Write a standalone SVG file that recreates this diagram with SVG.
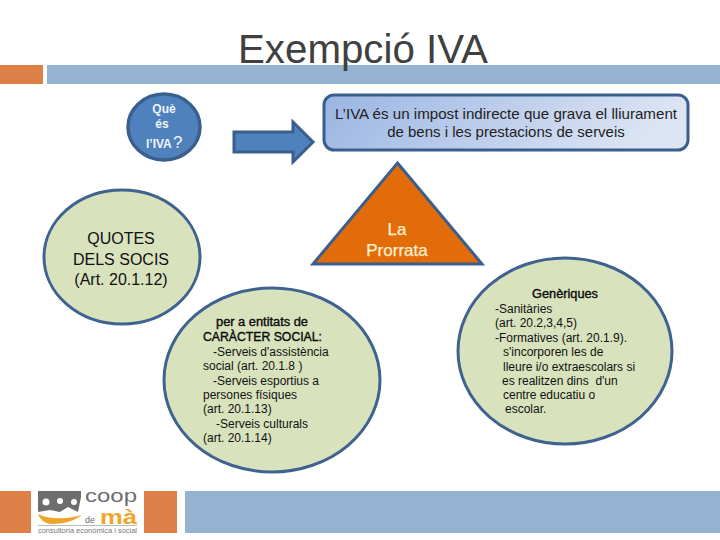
<svg xmlns="http://www.w3.org/2000/svg" width="720" height="540" viewBox="0 0 720 540">
<defs>
<linearGradient id="g" x1="0" y1="0" x2="1" y2="0.15"><stop offset="0" stop-color="#9ab5e2"/><stop offset="1" stop-color="#dde5f4"/></linearGradient>
</defs>
<style>
text{font-family:"Liberation Sans",Arial,sans-serif;fill:#111;white-space:pre}
.s{font-size:12px}
.b{font-size:12px;stroke:#000;stroke-width:.35}
.w{fill:#f2f5fa;font-size:12px;font-weight:bold}
.l{font-size:17px;fill:#fdeecf;stroke:#fdeecf;stroke-width:.25}
.q{font-size:16px}
.d{font-size:15px;fill:#222}
.bub{fill:#d8e2bd;stroke:#3f6390;stroke-width:3}
.lg{fill:#6d6d6d}
.lo{fill:#eda62b}
</style>
<rect width="720" height="540" fill="#fff"/>
<g id="banner"><rect x="0" y="65" width="43" height="19" fill="#dd8047"/><rect x="47" y="65" width="673" height="19" fill="#95b3d0"/></g>
<text x="238" y="63" font-size="40" style="fill:#404040" textLength="250" lengthAdjust="spacingAndGlyphs">Exempció IVA</text>
<g id="footer"><rect x="0" y="491" width="31" height="42" fill="#dd8047"/><rect x="144" y="491" width="33" height="42" fill="#dd8047"/><rect x="185" y="491" width="535" height="42" fill="#95b3d0"/></g>
<g id="logo">
<path d="M38 491H81V497L78 512L68 507L60 512L50 510L38 512Z" class="lg"/>
<circle cx="46" cy="502" r="3.500" fill="#fff"/><circle cx="60" cy="501" r="3" fill="#fff"/><circle cx="74" cy="502" r="3" fill="#fff"/>
<path d="M38 514C50 520 68 519 82 515C74 521 64 524 52 524C46 524 40 520 38 514Z" class="lo"/>
<text x="85" y="502" font-size="19" textLength="52" lengthAdjust="spacingAndGlyphs" style="fill:#6d6d6d">coop</text>
<text x="85" y="523" font-size="9" style="fill:#6d6d6d">de</text>
<text x="100" y="524" font-size="20" font-weight="bold" textLength="37" lengthAdjust="spacingAndGlyphs" style="fill:#eda62b">mà</text>
<rect x="38" y="525" width="99" height="1" fill="#bbb"/>
<text x="38" y="533" font-size="7" textLength="99" lengthAdjust="spacingAndGlyphs" style="fill:#777">consultoria econòmica i social</text>
</g>
<g id="connectors"><path d="M234 132H293V122L313 142L293 162V152H234Z" fill="#4f81bd" stroke="#3a5f8c" stroke-width="3"/></g>
<g id="que">
<ellipse cx="164" cy="127" rx="36" ry="33" fill="#4f81bd" stroke="#3a5f8c" stroke-width="3.500"/>
<text x="164" y="113" class="w" text-anchor="middle">Què</text>
<text x="162" y="128" class="w" text-anchor="middle">és</text>
<text x="146" y="148" class="w">l’IVA</text>
<text x="173" y="148" font-size="17" style="fill:#f2f5fa">?</text>
</g>
<g id="def">
<rect x="324" y="95" width="364" height="55" rx="10" fill="url(#g)" stroke="#3a5f8c" stroke-width="3"/>
<text x="335" y="119" class="d" textLength="342" lengthAdjust="spacingAndGlyphs">L’IVA és un impost indirecte que grava el lliurament</text>
<text x="506" y="137" class="d" text-anchor="middle">de bens i les prestacions de serveis</text>
</g>
<g id="prorrata">
<path d="M397.500 163L482 264H313Z" fill="#e36c0a" stroke="#3a5f8c" stroke-width="3"/>
<text x="397" y="235" class="l" text-anchor="middle">La</text>
<text x="397" y="256" class="l" text-anchor="middle">Prorrata</text>
</g>
<g id="quotes">
<ellipse cx="122" cy="257" rx="78" ry="67" class="bub"/>
<text x="121" y="244" class="q" text-anchor="middle">QUOTES</text>
<text x="121" y="265" class="q" text-anchor="middle">DELS SOCIS</text>
<text x="121" y="285" class="q" text-anchor="middle">(Art. 20.1.12)</text>
</g>
<g id="caracter">
<ellipse cx="272" cy="380" rx="108" ry="92" class="bub"/>
<text x="216" y="326" class="b" textLength="92" lengthAdjust="spacingAndGlyphs">per a entitats de</text>
<text x="203" y="341" class="b" textLength="119" lengthAdjust="spacingAndGlyphs">CARÀCTER SOCIAL:</text>
<text x="213" y="356" class="s">-Serveis d'assistència</text>
<text x="203" y="370" class="s">social (art. 20.1.8 )</text>
<text x="213" y="385" class="s">-Serveis esportius a</text>
<text x="203" y="399" class="s">persones físiques</text>
<text x="203" y="413" class="s">(art. 20.1.13)</text>
<text x="216" y="428" class="s">-Serveis culturals</text>
<text x="203" y="442" class="s">(art. 20.1.14)</text>
</g>
<g id="generiques">
<ellipse cx="565" cy="351" rx="107" ry="93" class="bub"/>
<text x="532" y="298" class="b" textLength="66" lengthAdjust="spacingAndGlyphs">Genèriques</text>
<text x="495" y="313" class="s">-Sanitàries</text>
<text x="495" y="327" class="s">(art. 20.2,3,4,5)</text>
<text x="495" y="342" class="s">-Formatives (art. 20.1.9).</text>
<text x="503" y="356" class="s">s'incorporen les de</text>
<text x="503" y="371" class="s">lleure i/o extraescolars si</text>
<text x="502" y="385" class="s">es realitzen dins  d'un</text>
<text x="503" y="399" class="s">centre educatiu o</text>
<text x="505" y="413" class="s">escolar.</text>
</g>
</svg>
